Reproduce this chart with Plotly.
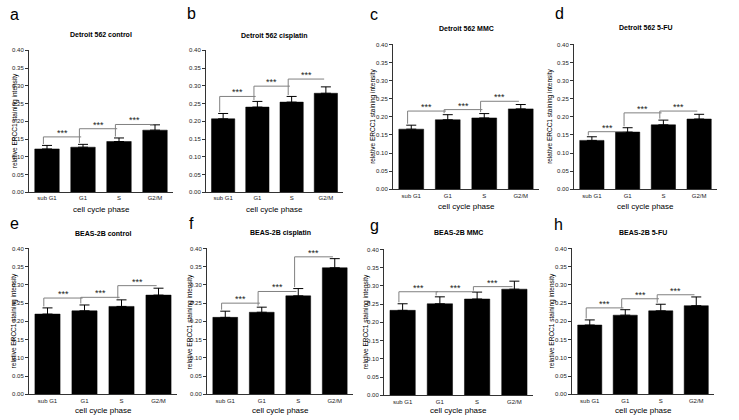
import plotly.graph_objects as go

# ---------------- data ----------------
categories = ["sub G1", "G1", "S", "G2/M"]
panel_letters = ["a", "b", "c", "d", "e", "f", "g", "h"]
titles = ["Detroit 562 control", "Detroit 562 cisplatin", "Detroit 562 MMC", "Detroit 562 5-FU",
          "BEAS-2B control", "BEAS-2B cisplatin", "BEAS-2B MMC", "BEAS-2B 5-FU"]
y_title = "relative ERCC1 staining intensity"
x_title = "cell cycle phase"
sig_text = "***"

mean_a = [0.122, 0.127, 0.143, 0.175]
err_a = [0.010, 0.008, 0.010, 0.015]
brk_a = [0.156, 0.179, 0.191]

mean_b = [0.207, 0.240, 0.254, 0.279]
err_b = [0.015, 0.016, 0.016, 0.018]
brk_b = [0.270, 0.299, 0.319]

mean_c = [0.166, 0.192, 0.197, 0.222]
err_c = [0.011, 0.014, 0.012, 0.012]
brk_c = [0.216, 0.220, 0.243]

mean_d = [0.135, 0.158, 0.178, 0.194]
err_d = [0.010, 0.012, 0.013, 0.013]
brk_d = [0.159, 0.211, 0.216]

mean_e = [0.220, 0.229, 0.241, 0.272]
err_e = [0.017, 0.016, 0.018, 0.019]
brk_e = [0.264, 0.266, 0.298]

mean_f = [0.211, 0.225, 0.270, 0.347]
err_f = [0.017, 0.014, 0.020, 0.025]
brk_f = [0.250, 0.282, 0.377]

mean_g = [0.233, 0.251, 0.264, 0.291]
err_g = [0.018, 0.019, 0.019, 0.022]
brk_g = [0.284, 0.284, 0.298]

mean_h = [0.190, 0.217, 0.229, 0.243]
err_h = [0.014, 0.015, 0.018, 0.024]
brk_h = [0.237, 0.262, 0.273]

means = [mean_a, mean_b, mean_c, mean_d, mean_e, mean_f, mean_g, mean_h]
errs = [err_a, err_b, err_c, err_d, err_e, err_f, err_g, err_h]
brks = [brk_a, brk_b, brk_c, brk_d, brk_e, brk_f, brk_g, brk_h]
show_ytitle = [True, False, True, True, True, True, True, True]

# ---------------- layout (page pixels) ----------------
W, H = 739, 420
# plot areas in pixels: x0, x1, ytop, ybottom
boxes = [
    (29, 173, 48, 192), (206, 343, 48, 192), (393, 539, 42, 189), (574, 717, 42, 189),
    (29, 177, 249, 397), (207, 353, 249, 397), (384, 533, 250, 398), (572, 714, 249, 397),
]
title_y = [32, 33, 26, 25, 234, 233, 233, 233]
letter_xy = [(14, 12), (191, 11), (374, 12), (559, 11), (14, 224), (191, 224), (374, 226), (558, 225)]
ytitle_x = [15, None, 373, 550, 14, 190, 366, 552]
xtitle_y = [209, 209, 206, 206, 413, 413, 413, 413]

FONT = "Liberation Sans, Arial, sans-serif"
AX = "#333333"
TXT = "#000000"


def px(x):
    return x / W


def py(y):
    return 1 - y / H


fig = go.Figure()
annotations = []
shapes = []

for i in range(8):
    k = "" if i == 0 else str(i + 1)
    xname, yname = "x" + k, "y" + k
    x0, x1, yt, yb = boxes[i]
    xpos = list(range(len(categories)))

    fig.add_trace(go.Bar(
        x=xpos, y=means[i], width=0.68,
        marker=dict(color="black", line=dict(color="black", width=0.5)),
        error_y=dict(type="data", symmetric=False, array=errs[i],
                     arrayminus=[0] * len(errs[i]), color="black", thickness=1, width=5),
        xaxis=xname, yaxis=yname, showlegend=False, hoverinfo="skip",
    ))

    fig.layout["xaxis" + k] = dict(
        domain=[px(x0), px(x1)], anchor=yname, range=[-0.5, len(categories) - 0.5],
        tickvals=xpos, ticktext=categories, showline=True, linecolor=AX, linewidth=1,
        ticks="", showgrid=False, zeroline=False,
        tickfont=dict(family=FONT, size=6, color="#222"),
    )
    fig.layout["yaxis" + k] = dict(
        domain=[py(yb), py(yt)], anchor=xname, range=[0, 0.4], dtick=0.05,
        tickformat=".2f", showline=True, linecolor=AX, linewidth=1,
        ticks="outside", ticklen=3, tickcolor=AX, showgrid=False, zeroline=False,
        tickfont=dict(family=FONT, size=6, color="#222"),
    )

    # significance brackets
    for j, by in enumerate(brks[i]):
        xl = j - 0.1
        xr = j + 1 - 0.05
        ylow = means[i][j] + errs[i][j] + 0.004
        shapes.append(dict(type="line", xref=xname, yref=yname, x0=xl, x1=xl, y0=ylow, y1=by,
                           line=dict(color="#808080", width=1)))
        shapes.append(dict(type="line", xref=xname, yref=yname, x0=xl, x1=xr, y0=by, y1=by,
                           line=dict(color="#808080", width=1)))
        annotations.append(dict(xref=xname, yref=yname, x=(xl + xr) / 2, y=by, text=sig_text,
                                showarrow=False, yanchor="bottom", yshift=-3,
                                font=dict(family=FONT, size=9, color="#222")))

    # title
    annotations.append(dict(xref="paper", yref="paper", x=px((x0 + x1) / 2), y=py(title_y[i]),
                            text="<b>%s</b>" % titles[i], showarrow=False,
                            xanchor="center", yanchor="middle",
                            font=dict(family=FONT, size=7, color=TXT)))
    # panel letter
    lx, ly = letter_xy[i]
    annotations.append(dict(xref="paper", yref="paper", x=px(lx), y=py(ly),
                            text=panel_letters[i], showarrow=False,
                            xanchor="center", yanchor="middle",
                            font=dict(family=FONT, size=16, color=TXT)))
    # x title
    annotations.append(dict(xref="paper", yref="paper", x=px((x0 + x1) / 2), y=py(xtitle_y[i]),
                            text=x_title, showarrow=False, xanchor="center", yanchor="middle",
                            font=dict(family=FONT, size=8, color=TXT)))
    # y title
    if show_ytitle[i]:
        annotations.append(dict(xref="paper", yref="paper", x=px(ytitle_x[i]),
                                y=py((yt + yb) / 2), text=y_title, showarrow=False,
                                textangle=-90, xanchor="center", yanchor="middle",
                                font=dict(family=FONT, size=6.5, color=TXT)))

fig.update_layout(
    width=W, height=H, margin=dict(l=0, r=0, t=0, b=0),
    paper_bgcolor="white", plot_bgcolor="white",
    annotations=annotations, shapes=shapes, bargap=0.3,
)

fig.write_html("out.html", config={"displayModeBar": False},
               post_script="document.body.style.margin='0px';document.body.style.overflow='hidden';")
